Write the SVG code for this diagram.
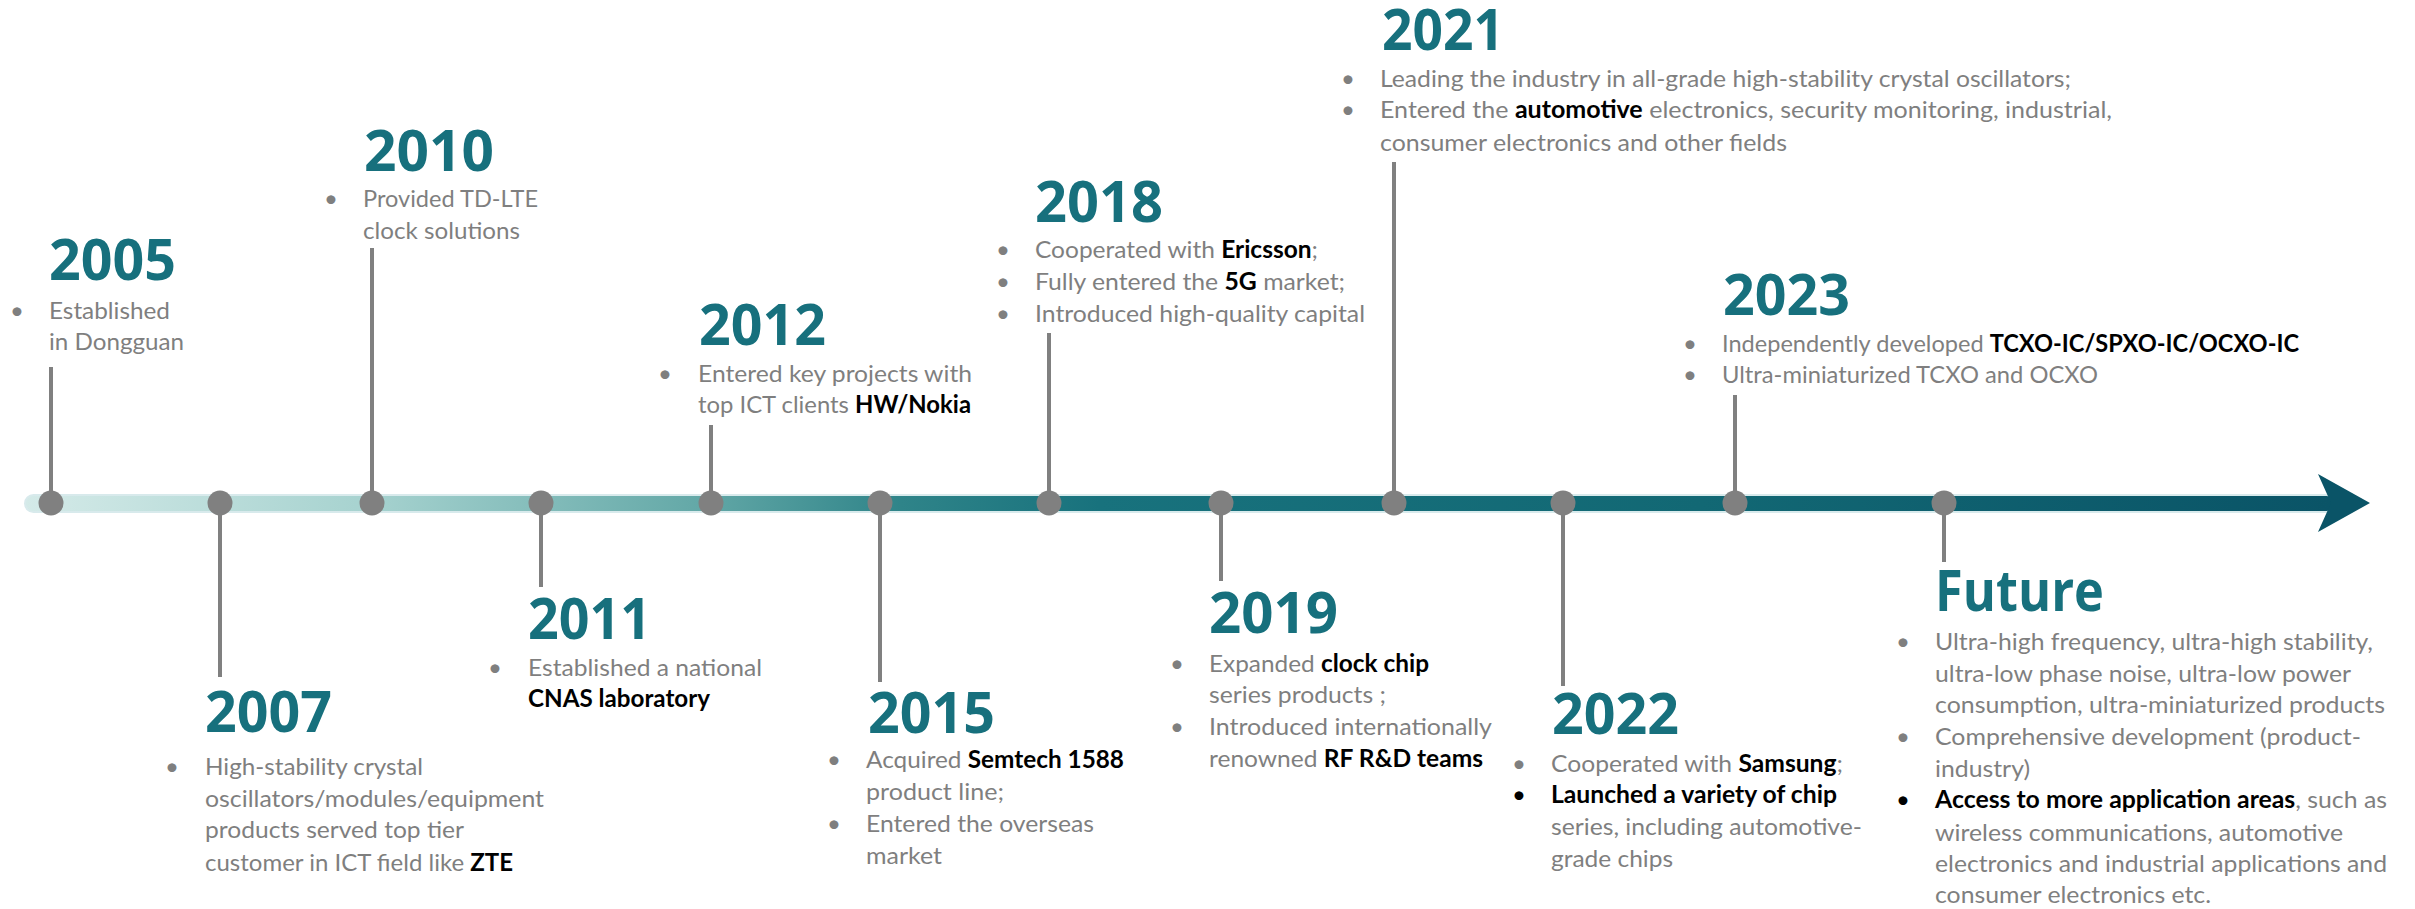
<svg xmlns="http://www.w3.org/2000/svg" width="2415" height="909" viewBox="0 0 2415 909">
  <defs>
    <linearGradient id="axisGrad" gradientUnits="userSpaceOnUse" x1="25" y1="0" x2="2330" y2="0">
      <stop offset="0" stop-color="#d4eae8"/>
      <stop offset="0.15" stop-color="#a6d2cf"/>
      <stop offset="0.293" stop-color="#63a8a7"/>
      <stop offset="0.38" stop-color="#2f8489"/>
      <stop offset="0.466" stop-color="#18727d"/>
      <stop offset="0.727" stop-color="#126874"/>
      <stop offset="1" stop-color="#0a5467"/>
    </linearGradient>
    <style>
      .year { font-family: "Open Sans", "Liberation Sans", sans-serif; font-weight: 700; font-size: 57px; fill: #17707d; }
      .txt { font-family: Lato, "Liberation Sans", sans-serif; font-size: 24px; fill: #7f7f7f; }
      .b { font-weight: 700; fill: #000000; }
      .blt { font-family: Lato, "Liberation Sans", sans-serif; font-size: 24px; fill: #7f7f7f; text-anchor: middle; }
      .blt.k { fill: #000000; }
      .stem { stroke: #808080; stroke-width: 4; }
      .dot { fill: #808080; }
    </style>
  </defs>
  <rect width="2415" height="909" fill="#ffffff"/>

  <!-- timeline axis with arrowhead -->
  <g id="axis">
    <rect x="25" y="495" width="2310" height="17" rx="8.5" fill="url(#axisGrad)" stroke="#d8eaec" stroke-width="2"/>
    <polygon points="2318,474 2370,503 2318,532 2331,503" fill="#0a5467"/>
  </g>

  <!-- stems joining each milestone to the axis -->
  <g id="connectors">
    <line class="stem" x1="51" y1="367" x2="51" y2="503"/>
    <line class="stem" x1="220" y1="503" x2="220" y2="677"/>
    <line class="stem" x1="372" y1="248" x2="372" y2="503"/>
    <line class="stem" x1="541" y1="503" x2="541" y2="587"/>
    <line class="stem" x1="711" y1="425" x2="711" y2="503"/>
    <line class="stem" x1="880" y1="503" x2="880" y2="682"/>
    <line class="stem" x1="1049" y1="333" x2="1049" y2="503"/>
    <line class="stem" x1="1221" y1="503" x2="1221" y2="581"/>
    <line class="stem" x1="1394" y1="162" x2="1394" y2="503"/>
    <line class="stem" x1="1563" y1="503" x2="1563" y2="686"/>
    <line class="stem" x1="1735" y1="395" x2="1735" y2="503"/>
    <line class="stem" x1="1944" y1="503" x2="1944" y2="562"/>
  </g>

  <g id="m2005">
    <circle class="dot" cx="51" cy="503" r="12.5"/>
    <text class="year" x="49" y="280" textLength="127" lengthAdjust="spacingAndGlyphs">2005</text>
    <text class="blt" x="17" y="319">•</text>
    <text class="txt" x="49" y="319" textLength="121" lengthAdjust="spacingAndGlyphs">Established</text>
    <text class="txt" x="49" y="350" textLength="135" lengthAdjust="spacingAndGlyphs">in Dongguan</text>
  </g>

  <g id="m2007">
    <circle class="dot" cx="220" cy="503" r="12.5"/>
    <text class="year" x="205" y="732" textLength="127" lengthAdjust="spacingAndGlyphs">2007</text>
    <text class="blt" x="172" y="775">•</text>
    <text class="txt" x="205" y="775" textLength="218" lengthAdjust="spacingAndGlyphs">High-stability crystal</text>
    <text class="txt" x="205" y="807" textLength="339" lengthAdjust="spacingAndGlyphs">oscillators/modules/equipment</text>
    <text class="txt" x="205" y="838" textLength="259" lengthAdjust="spacingAndGlyphs">products served top tier</text>
    <text class="txt" x="205" y="871" textLength="308" lengthAdjust="spacingAndGlyphs">customer in ICT field like <tspan class="b">ZTE</tspan></text>
  </g>

  <g id="m2010">
    <circle class="dot" cx="372" cy="503" r="12.5"/>
    <text class="year" x="364" y="171" textLength="130" lengthAdjust="spacingAndGlyphs">2010</text>
    <text class="blt" x="331" y="207">•</text>
    <text class="txt" x="363" y="207" textLength="175" lengthAdjust="spacingAndGlyphs">Provided TD-LTE</text>
    <text class="txt" x="363" y="239" textLength="157" lengthAdjust="spacingAndGlyphs">clock solutions</text>
  </g>

  <g id="m2011">
    <circle class="dot" cx="541" cy="503" r="12.5"/>
    <text class="year" x="528" y="639" textLength="123" lengthAdjust="spacingAndGlyphs">2011</text>
    <text class="blt" x="495" y="676">•</text>
    <text class="txt" x="528" y="676" textLength="234" lengthAdjust="spacingAndGlyphs">Established a national</text>
    <text class="txt" x="528" y="707" textLength="182" lengthAdjust="spacingAndGlyphs"><tspan class="b">CNAS laboratory</tspan></text>
  </g>

  <g id="m2012">
    <circle class="dot" cx="711" cy="503" r="12.5"/>
    <text class="year" x="699" y="345" textLength="127" lengthAdjust="spacingAndGlyphs">2012</text>
    <text class="blt" x="665" y="382">•</text>
    <text class="txt" x="698" y="382" textLength="274" lengthAdjust="spacingAndGlyphs">Entered key projects with</text>
    <text class="txt" x="698" y="413" textLength="273" lengthAdjust="spacingAndGlyphs">top ICT clients <tspan class="b">HW/Nokia</tspan></text>
  </g>

  <g id="m2015">
    <circle class="dot" cx="880" cy="503" r="12.5"/>
    <text class="year" x="868" y="733" textLength="127" lengthAdjust="spacingAndGlyphs">2015</text>
    <text class="blt" x="834" y="768">•</text>
    <text class="txt" x="866" y="768" textLength="258" lengthAdjust="spacingAndGlyphs">Acquired <tspan class="b">Semtech 1588</tspan></text>
    <text class="txt" x="866" y="800" textLength="138" lengthAdjust="spacingAndGlyphs">product line;</text>
    <text class="blt" x="834" y="832">•</text>
    <text class="txt" x="866" y="832" textLength="228" lengthAdjust="spacingAndGlyphs">Entered the overseas</text>
    <text class="txt" x="866" y="864" textLength="76" lengthAdjust="spacingAndGlyphs">market</text>
  </g>

  <g id="m2018">
    <circle class="dot" cx="1049" cy="503" r="12.5"/>
    <text class="year" x="1035" y="222" textLength="128" lengthAdjust="spacingAndGlyphs">2018</text>
    <text class="blt" x="1003" y="258">•</text>
    <text class="txt" x="1035" y="258" textLength="283" lengthAdjust="spacingAndGlyphs">Cooperated with <tspan class="b">Ericsson</tspan>;</text>
    <text class="blt" x="1003" y="290">•</text>
    <text class="txt" x="1035" y="290" textLength="310" lengthAdjust="spacingAndGlyphs">Fully entered the <tspan class="b">5G</tspan> market;</text>
    <text class="blt" x="1003" y="322">•</text>
    <text class="txt" x="1035" y="322" textLength="330" lengthAdjust="spacingAndGlyphs">Introduced high-quality capital</text>
  </g>

  <g id="m2019">
    <circle class="dot" cx="1221" cy="503" r="12.5"/>
    <text class="year" x="1209" y="633" textLength="129" lengthAdjust="spacingAndGlyphs">2019</text>
    <text class="blt" x="1177" y="672">•</text>
    <text class="txt" x="1209" y="672" textLength="220" lengthAdjust="spacingAndGlyphs">Expanded <tspan class="b">clock chip</tspan></text>
    <text class="txt" x="1209" y="703" textLength="177" lengthAdjust="spacingAndGlyphs">series products ;</text>
    <text class="blt" x="1177" y="735">•</text>
    <text class="txt" x="1209" y="735" textLength="283" lengthAdjust="spacingAndGlyphs">Introduced internationally</text>
    <text class="txt" x="1209" y="767" textLength="274" lengthAdjust="spacingAndGlyphs">renowned <tspan class="b">RF R&amp;D teams</tspan></text>
  </g>

  <g id="m2021">
    <circle class="dot" cx="1394" cy="503" r="12.5"/>
    <text class="year" x="1382" y="50" textLength="122" lengthAdjust="spacingAndGlyphs">2021</text>
    <text class="blt" x="1348" y="87">•</text>
    <text class="txt" x="1380" y="87" textLength="691" lengthAdjust="spacingAndGlyphs">Leading the industry in all-grade high-stability crystal oscillators;</text>
    <text class="blt" x="1348" y="118">•</text>
    <text class="txt" x="1380" y="118" textLength="732" lengthAdjust="spacingAndGlyphs">Entered the <tspan class="b">automotive</tspan> electronics, security monitoring, industrial,</text>
    <text class="txt" x="1380" y="151" textLength="407" lengthAdjust="spacingAndGlyphs">consumer electronics and other fields</text>
  </g>

  <g id="m2022">
    <circle class="dot" cx="1563" cy="503" r="12.5"/>
    <text class="year" x="1552" y="734" textLength="127" lengthAdjust="spacingAndGlyphs">2022</text>
    <text class="blt" x="1519" y="772">•</text>
    <text class="txt" x="1551" y="772" textLength="292" lengthAdjust="spacingAndGlyphs">Cooperated with <tspan class="b">Samsung</tspan>;</text>
    <text class="blt k" x="1519" y="803">•</text>
    <text class="txt" x="1551" y="803" textLength="286" lengthAdjust="spacingAndGlyphs"><tspan class="b">Launched a variety of chip</tspan></text>
    <text class="txt" x="1551" y="835" textLength="311" lengthAdjust="spacingAndGlyphs">series, including automotive-</text>
    <text class="txt" x="1551" y="867" textLength="122" lengthAdjust="spacingAndGlyphs">grade chips</text>
  </g>

  <g id="m2023">
    <circle class="dot" cx="1735" cy="503" r="12.5"/>
    <text class="year" x="1723" y="315" textLength="127" lengthAdjust="spacingAndGlyphs">2023</text>
    <text class="blt" x="1690" y="352">•</text>
    <text class="txt" x="1722" y="352" textLength="577" lengthAdjust="spacingAndGlyphs">Independently developed <tspan class="b">TCXO-IC/SPXO-IC/OCXO-IC</tspan></text>
    <text class="blt" x="1690" y="383">•</text>
    <text class="txt" x="1722" y="383" textLength="376" lengthAdjust="spacingAndGlyphs">Ultra-miniaturized TCXO and OCXO</text>
  </g>

  <g id="mFuture">
    <circle class="dot" cx="1944" cy="503" r="12.5"/>
    <text class="year" x="1935" y="611" textLength="169" lengthAdjust="spacingAndGlyphs">Future</text>
    <text class="blt" x="1903" y="650">•</text>
    <text class="txt" x="1935" y="650" textLength="438" lengthAdjust="spacingAndGlyphs">Ultra-high frequency, ultra-high stability,</text>
    <text class="txt" x="1935" y="682" textLength="416" lengthAdjust="spacingAndGlyphs">ultra-low phase noise, ultra-low power</text>
    <text class="txt" x="1935" y="713" textLength="450" lengthAdjust="spacingAndGlyphs">consumption, ultra-miniaturized products</text>
    <text class="blt" x="1903" y="745">•</text>
    <text class="txt" x="1935" y="745" textLength="426" lengthAdjust="spacingAndGlyphs">Comprehensive development (product-</text>
    <text class="txt" x="1935" y="777" textLength="95" lengthAdjust="spacingAndGlyphs">industry)</text>
    <text class="blt k" x="1903" y="808">•</text>
    <text class="txt" x="1935" y="808" textLength="452" lengthAdjust="spacingAndGlyphs"><tspan class="b">Access to more application areas</tspan>, such as</text>
    <text class="txt" x="1935" y="841" textLength="408" lengthAdjust="spacingAndGlyphs">wireless communications, automotive</text>
    <text class="txt" x="1935" y="872" textLength="452" lengthAdjust="spacingAndGlyphs">electronics and industrial applications and</text>
    <text class="txt" x="1935" y="903" textLength="276" lengthAdjust="spacingAndGlyphs">consumer electronics etc.</text>
  </g>
</svg>
